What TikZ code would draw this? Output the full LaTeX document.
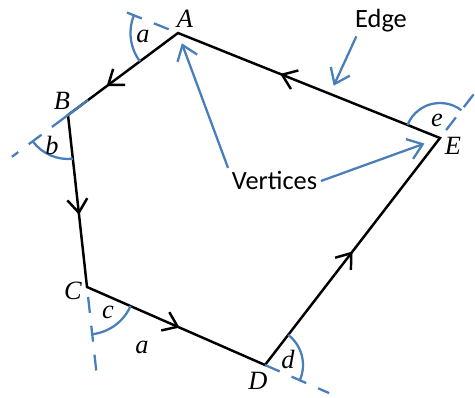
\documentclass[tikz,border=0pt]{standalone}
\usepackage{fontspec}
\setmainfont{Liberation Serif}
\newfontfamily\calibfont{Carlito}
\usepackage{tikz}
\usetikzlibrary{arrows.meta, calc, angles, decorations.markings}
\definecolor{lineblue}{RGB}{74,126,187}

\begin{document}
\begin{tikzpicture}[side/.style={draw, line width=1.4pt, line join=miter},
  tip/.style={line width=1.4pt, postaction={decorate}, decoration={markings, mark=at position #1 with {\arrow{Straight Barb[length=0.27cm, width=0.4cm]}}}},
  extline/.style={draw=lineblue, line width=1.3pt, dash pattern=on 0.32cm off 0.26cm},
  turn/.style={draw=lineblue, line width=1.3pt},
  callout/.style={draw=lineblue, line width=1.3pt, -{Straight Barb[length=0.28cm, width=0.42cm]}},
  vname/.style={font=\fontsize{15}{18}\selectfont\itshape, anchor=base, inner sep=0pt},
  note/.style={font=\calibfont\fontsize{15}{18}\selectfont, anchor=base, inner sep=2pt}]
\useasboundingbox (0,0) rectangle (9.5,7.94);
\coordinate (A) at (3.56,7.28);
\coordinate (B) at (1.36,5.64);
\coordinate (C) at (1.74,2.20);
\coordinate (D) at (5.30,0.64);
\coordinate (E) at (8.80,5.18);
\coordinate (Ax) at ($(A)!-1.28cm!(E)$);
\coordinate (Bx) at ($(B)!-1.4cm!(A)$);
\coordinate (Cx) at ($(C)!-1.7cm!(B)$);
\coordinate (Dx) at ($(D)!-1.4cm!(C)$);
\coordinate (Ex) at ($(E)!-1.15cm!(D)$);
\coordinate (Em) at ($(E)!0.42!(A)$);
% polygon
\draw[side] (A) -- (B) -- (C) -- (D) -- (E) -- cycle;
\path[tip=0.65] (A) -- (B);
\path[tip=0.58] (B) -- (C);
\path[tip=0.52] (C) -- (D);
\path[tip=0.50] (D) -- (E);
\path[tip=0.61] (E) -- (A);
% exterior angles
\draw[extline] ($(A)!0.2cm!(Ax)$) -- (Ax);
\draw[extline, dash pattern=on 0.9cm off 0.26cm on 0.32cm off 0.26cm] ($(B)!0.5cm!(A)$) -- (Bx);
\draw[extline] ($(C)!0.2cm!(Cx)$) -- (Cx);
\draw[extline] (D) -- (Dx);
\draw[extline] ($(E)!0.2cm!(Ex)$) -- (Ex);
\pic[turn, angle radius=0.95cm] {angle=Ax--A--B};
\pic[turn, angle radius=0.88cm] {angle=Bx--B--C};
\pic[turn, angle radius=0.95cm] {angle=Cx--C--D};
\pic[turn, angle radius=0.76cm] {angle=Dx--D--E};
\pic[turn, angle radius=0.70cm] {angle=Ex--E--A};
% letters
\node[vname] (lA) at (3.70,7.38) {A};
\node[vname] (lB) at (1.24,5.74) {B};
\node[vname] (lC) at (1.46,1.94) {C};
\node[vname] (lD) at (5.16,0.14) {D};
\node[vname] (lE) at (9.06,4.84) {E};
\node[vname] (la) at (2.86,7.08) {a};
\node[vname] (lb) at (1.04,4.84) {b};
\node[vname] (lc) at (2.16,1.56) {c};
\node[vname] (ld) at (5.76,0.58) {d};
\node[vname] (le) at (8.74,5.40) {e};
\node[vname] (lside) at (2.84,0.88) {a};
% callouts
\node[note] (lbledge) at (7.62,7.38) {Edge};
\node[note] (lblvert) at (5.49,4.14) {Vertices};
\draw[callout, shorten >=0.18cm] ([xshift=0.1cm]lbledge.south west) -- (Em);
\draw[callout, shorten >=0.22cm] (lblvert.north west) -- (A);
\draw[callout, shorten >=0.33cm] (lblvert.east) -- (E);
\end{tikzpicture}
\end{document}
